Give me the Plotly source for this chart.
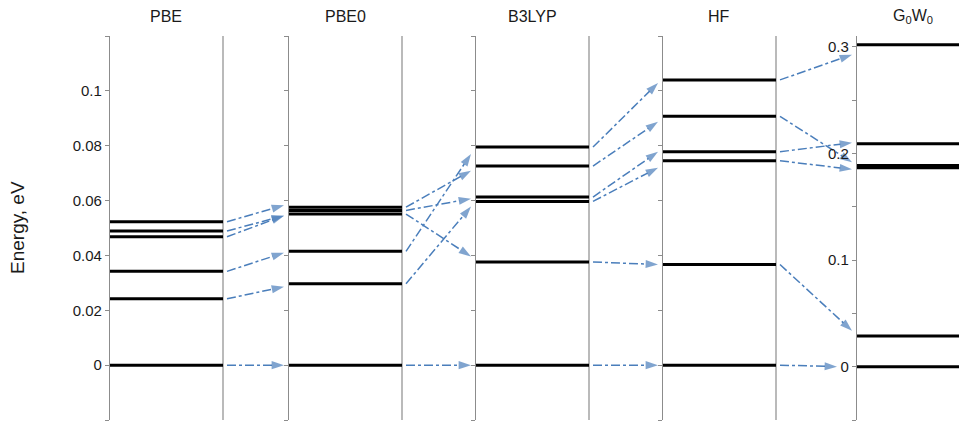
import plotly.graph_objects as go

# ---------------- data ----------------
PANELS = ["PBE", "PBE0", "B3LYP", "HF", "G<sub>0</sub>W<sub>0</sub>"]
LEVELS_PBE = [0.0, 0.0242, 0.0342, 0.0468, 0.0489, 0.0523]
LEVELS_PBE0 = [0.0, 0.0297, 0.0415, 0.0551, 0.0564, 0.0576]
LEVELS_B3LYP = [0.0, 0.0376, 0.0597, 0.0613, 0.0726, 0.0795]
LEVELS_HF = [0.0, 0.0367, 0.0745, 0.0778, 0.0907, 0.1040]
LEVELS_G0W0 = [0.0, 0.0287, 0.1865, 0.1885, 0.2090, 0.3019]
LEVELS = [LEVELS_PBE, LEVELS_PBE0, LEVELS_B3LYP, LEVELS_HF, LEVELS_G0W0]

# arrows: source panel index, source energy, target energy (in target panel's scale)
ARROW_SRC = [0, 0, 0, 0, 0, 0,
             1, 1, 1, 1, 1, 1,
             2, 2, 2, 2, 2, 2,
             3, 3, 3, 3, 3, 3]
ARROW_FROM = [0.0, 0.0242, 0.0342, 0.0523, 0.0489, 0.0468,
              0.0, 0.0297, 0.0415, 0.0551, 0.0564, 0.0576,
              0.0, 0.0376, 0.0597, 0.0613, 0.0726, 0.0795,
              0.0, 0.0367, 0.0745, 0.0778, 0.0907, 0.1040]
ARROW_TO = [0.0, 0.0286, 0.0410, 0.0583, 0.0545, 0.0545,
            0.0, 0.0578, 0.0770, 0.0396, 0.0607, 0.0709,
            0.0, 0.0367, 0.0720, 0.0778, 0.0887, 0.1029,
            0.0, 0.0336, 0.1850, 0.2100, 0.1916, 0.2925]

LEFT_TICKS = [0.0, 0.02, 0.04, 0.06, 0.08, 0.1]
LEFT_TICKTEXT = ["0", "0.02", "0.04", "0.06", "0.08", "0.1"]
LEFT_END_TICKS = [-0.02, 0.12]
G0W0_TICKS = [0.0, 0.1, 0.2, 0.3]
G0W0_TICKTEXT = ["0", "0.1", "0.2", "0.3"]
G0W0_MINOR = [-0.05, 0.05, 0.15, 0.25]

# ---------------- layout constants ----------------
W, H = 959, 424
PLOT_TOP, PLOT_BOTTOM = 36, 420
PANEL_LEFT = [109, 288, 475, 662, 856]
PANEL_W = 114
RANGE_LEFT = [-0.02, 0.12]
RANGE_G0W0 = [-0.05, 0.31]
AXIS_GRAY = "#8c8c8c"
ARROW_BLUE = "#4a7ebb"
TEXT = "#1a1a1a"
FONT = "Liberation Sans, Arial, sans-serif"
YREF = ["y", "y2", "y3", "y4", "y5"]
MT = PLOT_TOP
MB = H - PLOT_BOTTOM
PLOT_H = PLOT_BOTTOM - PLOT_TOP


def xpos(px):
    return px / W


def left_to_g0w0(v):
    # map a value of the common left scale onto the G0W0 axis (same pixel height)
    f = (v - RANGE_LEFT[0]) / (RANGE_LEFT[1] - RANGE_LEFT[0])
    return RANGE_G0W0[0] + f * (RANGE_G0W0[1] - RANGE_G0W0[0])


fig = go.Figure()

# energy levels
for i, lev in enumerate(LEVELS):
    xs, ys = [], []
    x0 = PANEL_LEFT[i]
    x1 = PANEL_LEFT[i] + PANEL_W
    for e in lev:
        xs += [x0, x1, None]
        ys += [e, e, None]
    fig.add_trace(go.Scatter(x=xs, y=ys, mode="lines", yaxis=YREF[i],
                             line=dict(color="black", width=3),
                             hoverinfo="skip", showlegend=False))

# arrows
for s, a, b in zip(ARROW_SRC, ARROW_FROM, ARROW_TO):
    t = s + 1
    xa = PANEL_LEFT[s] + PANEL_W + 4
    head_gap = 4
    if t == 4 and b == 0.0:
        head_gap = 19
    xb = PANEL_LEFT[t] - head_gap
    if t == 4:
        ya = left_to_g0w0(a)
        yax = "y5"
    else:
        ya = a
        yax = YREF[t]
    fig.add_trace(go.Scatter(
        x=[xa, xb], y=[ya, b], mode="lines+markers", yaxis=yax,
        line=dict(color=ARROW_BLUE, width=1.5, dash="dashdot"),
        marker=dict(symbol=["circle", "arrow"], size=[0, 13],
                    color=ARROW_BLUE, angleref="previous",
                    line=dict(width=0)),
        hoverinfo="skip", showlegend=False, cliponaxis=False))

layout = dict(
    width=W, height=H,
    margin=dict(l=0, r=0, t=MT, b=MB, pad=0, autoexpand=False),
    paper_bgcolor="white", plot_bgcolor="white",
    showlegend=False,
    font=dict(family=FONT, size=15, color=TEXT),
    xaxis=dict(range=[0, W], visible=False, domain=[0, 1], fixedrange=True),
)

common = dict(showgrid=False, zeroline=False, showline=True,
              linecolor=AXIS_GRAY, linewidth=1.2,
              ticks="outside", ticklen=4, tickcolor=AXIS_GRAY, tickwidth=1,
              anchor="free", automargin=False, fixedrange=True)

layout["yaxis"] = dict(common, range=RANGE_LEFT, position=xpos(PANEL_LEFT[0]),
                       tickvals=LEFT_TICKS, ticktext=LEFT_TICKTEXT,
                       tickfont=dict(size=15, family=FONT, color=TEXT),
                       minor=dict(tickvals=LEFT_END_TICKS, ticks="outside",
                                  ticklen=4, tickcolor=AXIS_GRAY))
for k in range(1, 4):
    layout["yaxis%d" % (k + 1)] = dict(common, range=RANGE_LEFT,
                                       position=xpos(PANEL_LEFT[k]),
                                       overlaying="y",
                                       tickvals=LEFT_TICKS,
                                       showticklabels=False,
                                       minor=dict(tickvals=LEFT_END_TICKS,
                                                  ticks="outside", ticklen=4,
                                                  tickcolor=AXIS_GRAY))
layout["yaxis5"] = dict(common, range=RANGE_G0W0, position=xpos(PANEL_LEFT[4]),
                        overlaying="y", tickvals=G0W0_TICKS,
                        ticktext=G0W0_TICKTEXT,
                        tickfont=dict(size=15, family=FONT, color=TEXT),
                        minor=dict(tickvals=G0W0_MINOR, ticks="outside",
                                   ticklen=4, tickcolor=AXIS_GRAY))

fig.update_layout(**layout)

# right borders of panels 1-4
for i in range(4):
    xr = PANEL_LEFT[i] + PANEL_W
    fig.add_shape(type="line", xref="x", yref="paper", x0=xr, x1=xr, y0=0, y1=1,
                  line=dict(color=AXIS_GRAY, width=1.2), layer="below")

# panel titles (centre at y = 17 px)
TITLE_Y = 1 + (PLOT_TOP - 17) / PLOT_H
for i, name in enumerate(PANELS):
    fig.add_annotation(x=PANEL_LEFT[i] + PANEL_W / 2, xref="x",
                       y=TITLE_Y, yref="paper",
                       text=name, showarrow=False, yanchor="middle",
                       font=dict(size=16, family=FONT, color=TEXT))

# y-axis title
fig.add_annotation(x=17, xref="x", y=0.5, yref="paper",
                   text="Energy, eV", textangle=-90, showarrow=False,
                   font=dict(size=19, family=FONT, color=TEXT))

fig.write_html("out.html",
               config={"displayModeBar": False},
               post_script="document.body.style.margin='0';"
                           "document.body.style.overflow='hidden';")
